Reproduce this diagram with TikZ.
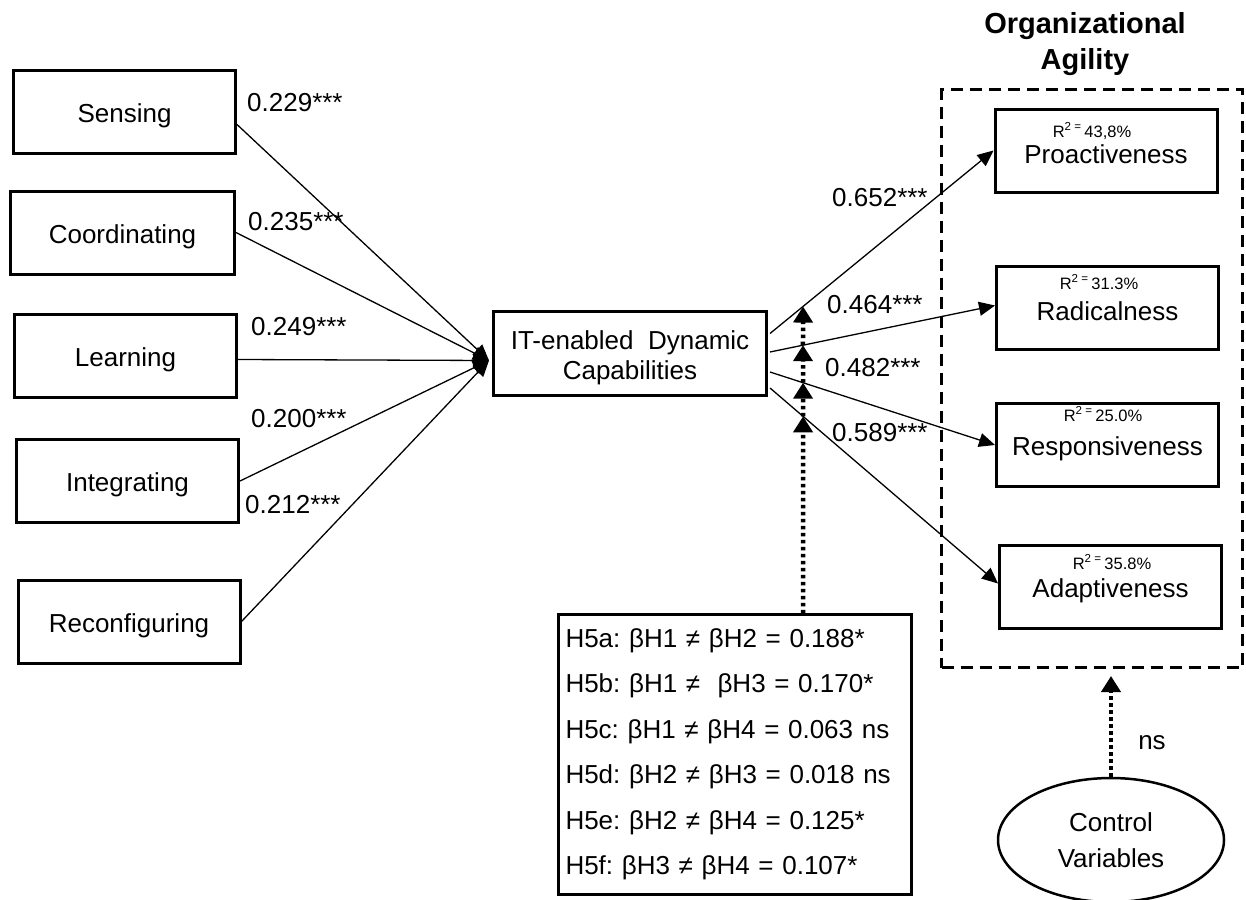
\documentclass[tikz,border=0pt]{standalone}
\usepackage{fontspec}
\setmainfont{Liberation Sans}
\usetikzlibrary{arrows.meta,shapes.geometric,calc}
\newcommand\mainsz{\fontsize{26}{30}\selectfont}
\newcommand\rsqsz{\fontsize{16.5}{19}\selectfont}
\newcommand\headsz{\fontsize{29}{36}\selectfont\bfseries}
% sets a box label a little below the box centre, keeping its size
\newcommand\dn[1]{\raisebox{-4pt}[\height][\depth]{#1}}
\frenchspacing
\tikzset{
  box/.style={draw, line width=3pt, minimum width=222pt, minimum height=83pt,
    inner sep=0pt, font=\mainsz},
  coef/.style={anchor=west, inner sep=0pt, font=\mainsz},
  rsq/.style={inner sep=0pt, font=\rsqsz},
  path/.style={line width=1.3pt, -{Triangle[length=16pt,width=14pt]}},
  dotarrow/.style={line width=4.5pt, dash pattern=on 3.5pt off 3.5pt,
    -{Triangle[length=16pt,width=19pt]}},
}
\begin{document}
\begin{tikzpicture}[x=1pt,y=-1pt]
\fill[white] (0,0) rectangle (1246,899);
\useasboundingbox (0,0) rectangle (1246,899);

% first-order dimensions
\node[box] (sen) at (124.5,111.5) {\dn{Sensing}};
\node[box, minimum width=224pt] (coo) at (122.5,232.5) {\dn{Coordinating}};
\node[box] (lea) at (125.5,355.5) {\dn{Learning}};
\node[box] (int) at (127.5,481) {\dn{Integrating}};
\node[box] (rec) at (129,621.5) {\dn{Reconfiguring}};

% second-order construct
\node[box, minimum width=273pt, minimum height=84pt, align=center,
  font=\fontsize{26}{30}\selectfont] (it) at (630,353.5)
  {\dn{IT-enabled~ Dynamic}\\\dn{Capabilities}};

% outcome constructs
\node[box] (pro) at (1106,150.5) {\dn{Proactiveness}};
\node[box] (rad) at (1107.5,307.5) {\dn{Radicalness}};
\node[box] (res) at (1107.5,445) {\dn{Responsiveness}};
\node[box] (ada) at (1110.5,586.5) {\dn{Adaptiveness}};

\node[rsq] (r1) at (1092,131) {R\textsuperscript{2}\,\textsuperscript{=}\,43,8\%};
\node[rsq] (r2) at (1099,282) {R\textsuperscript{2}\,\textsuperscript{=}\,31.3\%};
\node[rsq] (r3) at (1103,414) {R\textsuperscript{2}\,\textsuperscript{=}\,25.0\%};
\node[rsq] (r4) at (1112,562) {R\textsuperscript{2}\,\textsuperscript{=}\,35.8\%};

% agility frame and heading
\node[draw, line width=3pt, dash pattern=on 12pt off 7pt,
  minimum width=301pt, minimum height=578pt] (agil) at (1092,378.5) {};
\node[font=\headsz, align=center, inner sep=0pt] (ttl) at (1085,44)
  {Organizational\\Agility};

% paths into the second-order construct
\coordinate (in) at ($(it.west)+(-3,7)$);
\draw[path] ([yshift=-13pt]sen.east) -- (in);
\draw[path] (coo.east) -- (in);
\draw[path] ([yshift=-4pt]lea.east) -- (in);
\draw[path] (int.east) -- (in);
\draw[path] (rec.east) -- (in);

\node[coef] (c1) at (247,103) {0.229***};
\node[coef] (c2) at (248,222) {0.235***};
\node[coef] (c3) at (251,327) {0.249***};
\node[coef] (c4) at (251,419) {0.200***};
\node[coef] (c5) at (245,505) {0.212***};

% paths to the agility dimensions
\coordinate (o1) at ($(it.east)+(2,-20)$);
\coordinate (o2) at ($(it.east)+(2,-1.5)$);
\coordinate (o3) at ($(it.east)+(2,18.5)$);
\coordinate (o4) at ($(it.east)+(2,34.5)$);
\coordinate (t1) at (pro.west);
\coordinate (t2) at ([yshift=2pt]rad.west);
\coordinate (t3) at (res.west);
\coordinate (t4) at ([yshift=3pt]ada.west);
\draw[path] (o1) -- (t1);
\draw[path] (o2) -- (t2);
\draw[path] (o3) -- (t3);
\draw[path] (o4) -- (t4);

\node[coef] (d1) at (832,198) {0.652***};
\node[coef] (d2) at (827,305) {0.464***};
\node[coef] (d3) at (825,368) {0.482***};
\node[coef] (d4) at (832,433) {0.589***};

% moderation tests
\node[draw, line width=2.5pt, minimum width=353pt, minimum height=280pt,
  text width=339pt, inner xsep=7pt, align=left,
  font=\fontsize{26}{45.5}\selectfont] (h5) at (735,754.5)
  {H5a: βH1 ≠ βH2 = 0.188*\\
   H5b: βH1 ≠~ βH3 = 0.170*\\
   H5c: βH1 ≠ βH4 = 0.063 ns\\
   H5d: βH2 ≠ βH3 = 0.018 ns\\
   H5e: βH2 ≠ βH4 = 0.125*\\
   H5f: βH3 ≠ βH4 = 0.107*};

\coordinate (vx) at (803,0);
\coordinate (vb) at (vx |- h5.north);
\coordinate (m1) at (intersection of o1--t1 and vx--vb);
\coordinate (m2) at (intersection of o2--t2 and vx--vb);
\coordinate (m3) at (intersection of o3--t3 and vx--vb);
\coordinate (m4) at (intersection of o4--t4 and vx--vb);
\draw[dotarrow] (vb) -- (m4);
\draw[dotarrow] (m4) -- (m3);
\draw[dotarrow] (m3) -- (m2);
\draw[dotarrow] (m2) -- (m1);

% control variables
\node[draw, ellipse, line width=2.5pt, minimum width=226pt, minimum height=124pt,
  inner sep=0pt, align=center, font=\fontsize{26}{36}\selectfont]
  (ctrl) at (1111,840) {Control\\Variables};
\draw[dotarrow, shorten >=7pt] (ctrl.north) -- (ctrl.north |- agil.south);
\node[inner sep=0pt, font=\mainsz] (ns) at (1152,743) {ns};
\end{tikzpicture}
\end{document}
